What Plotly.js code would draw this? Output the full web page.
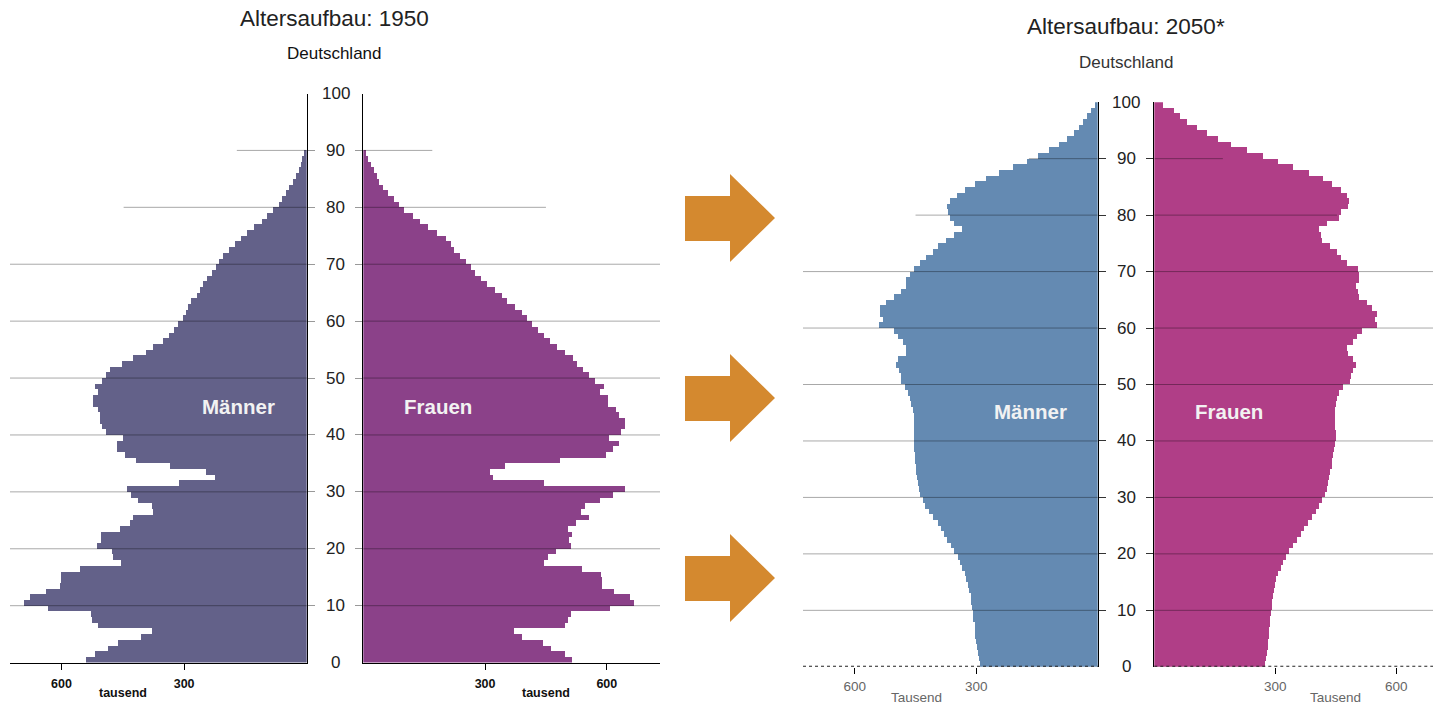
<!DOCTYPE html>
<html>
<head>
<meta charset="utf-8">
<script src="https://cdn.plot.ly/plotly-3.0.1.min.js"></script>
<style>html,body{margin:0;padding:0;background:#fff;}#chart{width:1433px;height:705px;}</style>
</head>
<body>
<div id="chart"></div>
<script>
// ---------- DATA ----------
const ages1950 = [0,1,2,3,4,5,6,7,8,9,10,11,12,13,14,15,16,17,18,19,20,21,22,23,24,25,26,27,28,29,30,31,32,33,34,35,36,37,38,39,40,41,42,43,44,45,46,47,48,49,50,51,52,53,54,55,56,57,58,59,60,61,62,63,64,65,66,67,68,69,70,71,72,73,74,75,76,77,78,79,80,81,82,83,84,85,86,87,88,89];
const men1950 = [541,518,485,461,405,379,511,526,528,634,
  691,677,638,604,601,601,555,455,473,477,
  512,504,504,458,432,426,375,379,412,430,
  440,312,224,247,334,418,445,465,465,449,
  491,502,506,506,511,522,524,510,518,502,
  490,481,451,424,394,375,351,337,325,314,
  302,296,290,284,268,262,254,245,232,223,
  215,206,190,175,161,147,129,110,96,82,
  68,60,50,43,33,25,19,15,11,7];
const women1950 = [515,496,462,442,392,372,496,504,511,608,
  668,658,618,588,588,585,538,446,455,475,
  511,508,514,505,524,555,536,545,582,615,
  645,445,319,312,348,485,598,615,631,606,
  635,645,645,631,622,602,602,582,592,571,
  556,542,526,516,497,477,460,444,431,415,
  404,390,374,353,341,325,306,290,275,265,
  253,238,224,215,203,181,159,140,122,100,
  89,76,60,48,39,33,26,19,12,7];
const ages2050 = [0,1,2,3,4,5,6,7,8,9,10,11,12,13,14,15,16,17,18,19,20,21,22,23,24,25,26,27,28,29,30,31,32,33,34,35,36,37,38,39,40,41,42,43,44,45,46,47,48,49,50,51,52,53,54,55,56,57,58,59,60,61,62,63,64,65,66,67,68,69,70,71,72,73,74,75,76,77,78,79,80,81,82,83,84,85,86,87,88,89,90,91,92,93,94,95,96,97,98,99];
const men2050 = [292,293,296,298,300,302,302,304,307,309,
  310,312,314,317,321,325,329,335,340,345,
  354,362,372,380,387,395,407,417,426,432,
  439,442,444,446,448,450,451,452,454,454,
  454,454,454,454,455,457,460,464,469,475,
  487,487,491,499,493,474,474,481,493,504,
  541,531,539,537,522,504,487,474,474,463,
  454,438,423,408,394,375,354,334,354,366,
  369,372,366,347,329,302,275,245,209,175,
  147,120,95,76,58,46,36,26,17,7];
const women2050 = [274,277,279,281,283,284,285,287,288,289,
  291,293,295,297,299,302,307,313,320,326,
  335,343,353,363,372,382,392,401,409,417,
  423,427,431,433,436,440,441,444,446,448,
  450,450,448,448,448,448,450,454,459,469,
  485,488,492,499,492,481,479,493,502,514,
  551,547,553,540,528,508,504,500,508,508,
  504,477,464,452,436,415,413,409,429,459,
  462,481,483,477,462,441,419,384,345,307,
  269,229,189,159,130,105,82,64,49,21];
const ageTicks = [0,10,20,30,40,50,60,70,80,90,100];
const xTicks = [300,600];
const titles = ["Altersaufbau: 1950","Altersaufbau: 2050*"];
const subtitle = "Deutschland";
const sexLabels = ["Männer","Frauen"];
const unit1950 = "tausend", unit2050 = "Tausend";

// ---------- STYLE ----------
const W = 1433, H = 705;
const FONT = "Liberation Sans, Arial, sans-serif";
const px = x => x / W, py = y => 1 - y / H;
const col = {m50:"#636189", w50:"#8b4189", m20:"#648ab2", w20:"#b03e87", arrow:"#d4892f"};
const GRID = "rgba(0,0,0,0.34)";

function barTrace(ages, vals, color, xa, ya) {
  return {type:"bar", orientation:"h", y: ages, x: vals, base: 0,
    width: 1, offset: 0, xaxis: xa, yaxis: ya,
    marker:{color: color, line:{width:0}}, hoverinfo:"skip"};
}
const data = [
  barTrace(ages1950, men1950, col.m50, "x", "y"),
  barTrace(ages1950, women1950, col.w50, "x2", "y2"),
  barTrace(ages2050, men2050, col.m20, "x3", "y3"),
  barTrace(ages2050, women2050, col.w20, "x4", "y4")
];

const yd50 = [py(662.6), py(93.5)];
const yd20 = [py(666.8), py(102.2)];

function xax(domain, range, anchor, fontSpec, standoff) {
  return {domain: domain, range: range, anchor: anchor, fixedrange:true,
    showgrid:false, zeroline:false, showline:true, linecolor:"#000", linewidth:1,
    ticks:"outside", tickvals:xTicks, ticklen:6, tickcolor:"#000", tickwidth:1,
    tickfont: fontSpec, ticklabelstandoff: standoff};
}
function yax(domain, anchor, side, tcol) {
  return {domain: domain, range:[0,100], anchor: anchor, side: side, fixedrange:true,
    showgrid:false, zeroline:false, showline:true, linecolor:"#000", linewidth:1.5,
    ticks:"outside", tickvals: ageTicks.slice(1,10), ticklen:7, tickcolor: tcol, tickwidth:1,
    showticklabels:false};
}
const tf50 = {family:FONT, size:12.5, color:"#111", weight:"bold"};
const tf20 = {family:FONT, size:13.5, color:"#666"};

const layout = {
  width: W, height: H, margin:{l:0,r:0,t:0,b:0}, showlegend:false,
  paper_bgcolor:"#fff", plot_bgcolor:"rgba(0,0,0,0)", bargap:0,
  xaxis:  xax([px(10), px(306.7)], [726,0], "y", tf50, 3),
  xaxis2: xax([px(363.3), px(660)], [0,731], "y2", tf50, 3),
  xaxis3: Object.assign(xax([px(803), px(1097.7)], [728,0], "y3", tf20, 1), {showline:false}),
  xaxis4: Object.assign(xax([px(1154.3), 1], [0,691], "y4", tf20, 1), {showline:false}),
  yaxis:  yax(yd50, "x", "right", "#999"),
  yaxis2: yax(yd50, "x2", "left", "#999"),
  yaxis3: yax(yd20, "x3", "right", "#333"),
  yaxis4: yax(yd20, "x4", "left", "#333"),
  shapes: [], annotations: []
};

// gridlines (drawn over bars)
function hline(xr, x0, x1, yr, y) {
  layout.shapes.push({type:"line", layer:"above", xref:xr, yref:yr, x0:x0, x1:x1, y0:y, y1:y,
    line:{color:GRID, width:1}});
}
[10,20,30,40,50,60,70].forEach(a => {
  hline("x domain",0,1,"y",a); hline("x2 domain",0,1,"y2",a);
  hline("x3 domain",0,1,"y3",a); hline("x4 domain",0,1,"y4",a);
});
hline("x",0,448,"y",80); hline("x2",0,450,"y2",80);
hline("x",0,171,"y",90); hline("x2",0,170,"y2",90);
hline("x3",0,450,"y3",80); hline("x4",0,453,"y4",80);
hline("x3",0,170,"y3",90); hline("x4",0,170,"y4",90);

// dotted baseline of 2050 panels
["x3","x4"].forEach((xa,i) => layout.shapes.push({type:"line", layer:"above",
  xref: xa+" domain", yref: "y"+(i+3), x0:0, x1:1, y0:0, y1:0,
  line:{color:"#222", width:2, dash:"dot"}}));

// arrows
[0,180,360].forEach(dy => {
  const pts = [[685,196],[730,196],[730,174],[775,218],[730,262],[730,241],[685,241]]
    .map(p => px(p[0]) + "," + py(p[1] + dy));
  layout.shapes.push({type:"path", xref:"paper", yref:"paper",
    path: "M" + pts.join(" L") + " Z", fillcolor: col.arrow, line:{width:0}});
});

function ann(text, x, y, font, xref, yref) {
  layout.annotations.push({text:text, x:x, y:y, xref:xref||"paper", yref:yref||"paper",
    xanchor:"center", yanchor:"middle", showarrow:false, font:font});
}
// titles
ann(titles[0], px(334.5), py(18), {family:FONT, size:22.5, color:"#222"});
ann(subtitle, px(334.5), py(53), {family:FONT, size:17, color:"#111"});
ann(titles[1], px(1125.5), py(26), {family:FONT, size:22.5, color:"#222"});
ann(subtitle, px(1126), py(62), {family:FONT, size:17, color:"#333"});
// age labels
ageTicks.forEach(a => {
  ann(String(a), px(335.5), a, {family:FONT, size:17, color:"#222"}, "paper", "y");
  ann(String(a), px(1126), a, {family:FONT, size:17, color:"#222"}, "paper", "y3");
});
// sex labels
const sf = {family:FONT, size:20.5, color:"#f2f2f2", weight:"bold"};
ann(sexLabels[0], px(238), py(407), sf);
ann(sexLabels[1], px(437.5), py(407), sf);
ann(sexLabels[0], px(1030), py(412), sf);
ann(sexLabels[1], px(1228.5), py(412), sf);
// units
ann(unit1950, px(123), py(693), {family:FONT, size:12.5, color:"#111", weight:"bold"});
ann(unit1950, px(546), py(693), {family:FONT, size:12.5, color:"#111", weight:"bold"});
ann(unit2050, px(917), py(697), {family:FONT, size:13.5, color:"#666"});
ann(unit2050, px(1335), py(697), {family:FONT, size:13.5, color:"#666"});

Plotly.newPlot("chart", data, layout, {staticPlot:true, displayModeBar:false});
</script>
</body>
</html>
